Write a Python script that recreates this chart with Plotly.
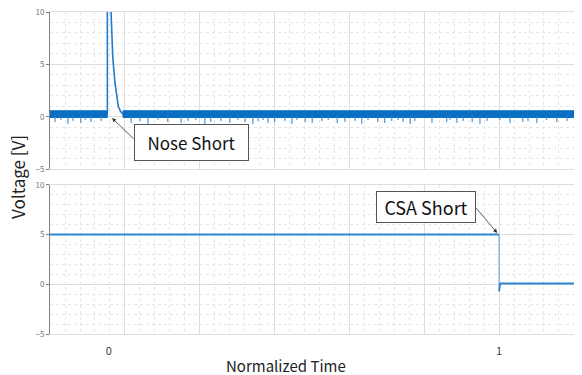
import plotly.graph_objects as go

# ---------------- data ----------------
x_range = [-0.151, 1.192]

# top panel: noisy baseline band segments (start, end, high, low)
band_start = [-0.151, 0.036]
band_end = [-0.004, 1.192]
band_high = [0.57, 0.57]
band_low = [-0.07, -0.07]

# top panel: nose short transient
nose_t = [-0.004, -0.004, -0.001, 0.002, 0.0054, 0.010, 0.0156, 0.020, 0.024, 0.030, 0.036]
nose_v = [0.25, 30.0, 30.0, 16.0, 10.0, 5.6, 3.2, 1.9, 1.0, 0.5, 0.25]

# top panel: downward noise glitches (time, minimum voltage)
glitch_t = [-0.138, -0.123, -0.105, -0.092, -0.072, -0.061, -0.046, -0.020,
            0.057, 0.080, 0.100, 0.126, 0.151, 0.185, 0.203, 0.223, 0.246, 0.261, 0.287,
            0.310, 0.331, 0.349, 0.369, 0.382, 0.395, 0.408, 0.425, 0.451, 0.469, 0.482,
            0.503, 0.521, 0.546, 0.562, 0.585, 0.605, 0.631, 0.648, 0.664, 0.689, 0.707,
            0.725, 0.741, 0.754, 0.772, 0.784, 0.828, 0.866, 0.874, 0.892, 0.908, 0.931,
            0.951, 0.969, 1.002, 1.028, 1.061, 1.074, 1.097, 1.122, 1.148, 1.174]
glitch_v = [-0.5, -0.3, -0.7, -0.4, -0.6, -0.3, -0.5, -0.4,
            -0.6, -0.4, -0.7, -0.3, -0.5, -0.6, -0.4, -0.3, -0.7, -0.5, -0.4,
            -0.6, -0.3, -0.5, -0.7, -0.4, -0.3, -0.6, -0.5, -0.4, -0.7, -0.3,
            -0.5, -0.6, -0.4, -0.3, -0.6, -0.5, -0.4, -0.7, -0.3, -0.5, -0.6,
            -0.4, -0.3, -0.5, -0.7, -0.4, -0.6, -0.5, -0.3, -0.6, -0.4, -0.5,
            -0.7, -0.4, -0.3, -0.6, -0.5, -0.4, -0.6, -0.3, -0.5, -0.4]

# bottom panel: CSA signal (before step, step, after step)
csa_pre_t = [-0.151, 1.0]
csa_pre_v = [5.0, 5.0]
csa_step_t = [1.0, 1.0]
csa_step_v = [5.0, -0.7]
csa_post_t = [1.0, 1.003, 1.192]
csa_post_v = [-0.7, 0.08, 0.08]

x_tick_vals = [0, 1]
x_tick_text = ["0", "1"]
y_tick_vals = [-5, 0, 5, 10]

# ---------------- figure ----------------
BLUE = "#0a6fc2"
FONT = "Noto Sans CJK KR"

fig = go.Figure()

# band polygons built from the segment arrays
bx, by = [], []
for s, e, h, l in zip(band_start, band_end, band_high, band_low):
    bx += [s, e, e, s, s, None]
    by += [h, h, l, l, h, None]
fig.add_trace(go.Scatter(x=bx, y=by, mode="lines", fill="toself", fillcolor=BLUE,
                         line=dict(color=BLUE, width=1), xaxis="x", yaxis="y",
                         hoverinfo="skip", showlegend=False))

gx, gy = [], []
for t, v in zip(glitch_t, glitch_v):
    gx += [t, t, None]
    gy += [0.1, v, None]
fig.add_trace(go.Scatter(x=gx, y=gy, mode="lines", line=dict(color="#2a82cf", width=1),
                         xaxis="x", yaxis="y", hoverinfo="skip", showlegend=False))

fig.add_trace(go.Scatter(x=nose_t, y=nose_v, mode="lines", line=dict(color="#1f7ccc", width=1.6),
                         xaxis="x", yaxis="y", showlegend=False))

fig.add_trace(go.Scatter(x=csa_pre_t, y=csa_pre_v, mode="lines", line=dict(color="#2b86d4", width=2),
                         xaxis="x2", yaxis="y2", showlegend=False))
fig.add_trace(go.Scatter(x=csa_step_t, y=csa_step_v, mode="lines", line=dict(color="#6aa9e0", width=1.2),
                         xaxis="x2", yaxis="y2", showlegend=False))
fig.add_trace(go.Scatter(x=csa_post_t, y=csa_post_v, mode="lines", line=dict(color="#2b86d4", width=1.8),
                         xaxis="x2", yaxis="y2", showlegend=False))

# dummy trace for label axis
fig.add_trace(go.Scatter(x=[None], y=[None], xaxis="x3", yaxis="y2", showlegend=False))

DT = 0.1918
GRID = "#dedede"
MINOR = "#e6e6e6"

def xaxis_common(anchor):
    return dict(anchor=anchor, domain=[0, 1], range=x_range, tickmode="linear", tick0=1, dtick=DT,
                showticklabels=False, ticks="", showgrid=True, gridcolor=GRID, gridwidth=1,
                minor=dict(tickmode="linear", tick0=1, dtick=DT / 5, showgrid=True,
                           gridcolor=MINOR, griddash="dot", gridwidth=1),
                zeroline=False, showline=True, linecolor=GRID, linewidth=1, mirror=True)

def yaxis_common(anchor, domain):
    return dict(anchor=anchor, domain=domain, range=[-5, 10], tickmode="array",
                tickvals=y_tick_vals, showgrid=True, gridcolor=GRID, gridwidth=1,
                minor=dict(tickmode="linear", tick0=0, dtick=1, showgrid=True,
                           gridcolor=MINOR, griddash="dot", gridwidth=1),
                zeroline=False, showline=True, linecolor="#808080", linewidth=1,
                ticks="outside", ticklen=3, tickcolor="#808080", ticklabeloverflow="allow",
                tickfont=dict(family=FONT, size=8, color="#777777"))

fig.update_layout(
    width=582, height=375,
    margin=dict(l=50, r=8, t=12, b=41, autoexpand=False),
    paper_bgcolor="white", plot_bgcolor="white",
    font=dict(family=FONT),
    xaxis=xaxis_common("y"),
    yaxis=yaxis_common("x", [0.512, 1.0]),
    xaxis2=xaxis_common("y2"),
    yaxis2=yaxis_common("x2", [0.0, 0.463]),
    xaxis3=dict(overlaying="x2", anchor="y2", range=x_range, tickmode="array",
                tickvals=x_tick_vals, ticktext=x_tick_text, showgrid=False, zeroline=False,
                showline=False, ticks="", ticklabelstandoff=9,
                tickfont=dict(family=FONT, size=11, color="#404040")),
)

# axis titles
fig.add_annotation(text="Normalized Time", xref="paper", yref="paper", x=0.451, y=-0.099,
                   xanchor="center", yanchor="middle", showarrow=False,
                   font=dict(family=FONT, size=15, color="#222222"))
fig.add_annotation(text="Voltage [V]", xref="paper", yref="paper", x=-0.061, y=0.488,
                   xanchor="center", yanchor="middle", showarrow=False, textangle=-90,
                   borderpad=0, font=dict(family=FONT, size=17, color="#222222"))

# callouts
fig.add_annotation(text="Nose Short", xref="x", yref="y", x=0.212, y=-2.47, showarrow=False,
                   bgcolor="white", bordercolor="#555555", borderwidth=1, width=111, height=33,
                   font=dict(family=FONT, size=17, color="#111111"))
fig.add_annotation(text="", xref="x", yref="y", x=0.008, y=-0.13, ax=0.067, ay=-2.23,
                   axref="x", ayref="y", showarrow=True, arrowhead=2, arrowsize=1,
                   arrowwidth=0.8, arrowcolor="#333333", standoff=0, startstandoff=0)

fig.add_annotation(text="CSA Short", xref="x2", yref="y2", x=0.813, y=7.73, showarrow=False,
                   bgcolor="white", bordercolor="#555555", borderwidth=1, width=96, height=28,
                   font=dict(family=FONT, size=18, color="#111111"))
fig.add_annotation(text="", xref="x2", yref="y2", x=0.995, y=5.17, ax=0.938, ay=7.82,
                   axref="x2", ayref="y2", showarrow=True, arrowhead=2, arrowsize=1,
                   arrowwidth=0.8, arrowcolor="#333333", standoff=0, startstandoff=0)

# remove the default page margin so the figure fills the window exactly
fig.write_html("out.html", config={"displayModeBar": False},
               post_script="document.body.style.margin='0';")
